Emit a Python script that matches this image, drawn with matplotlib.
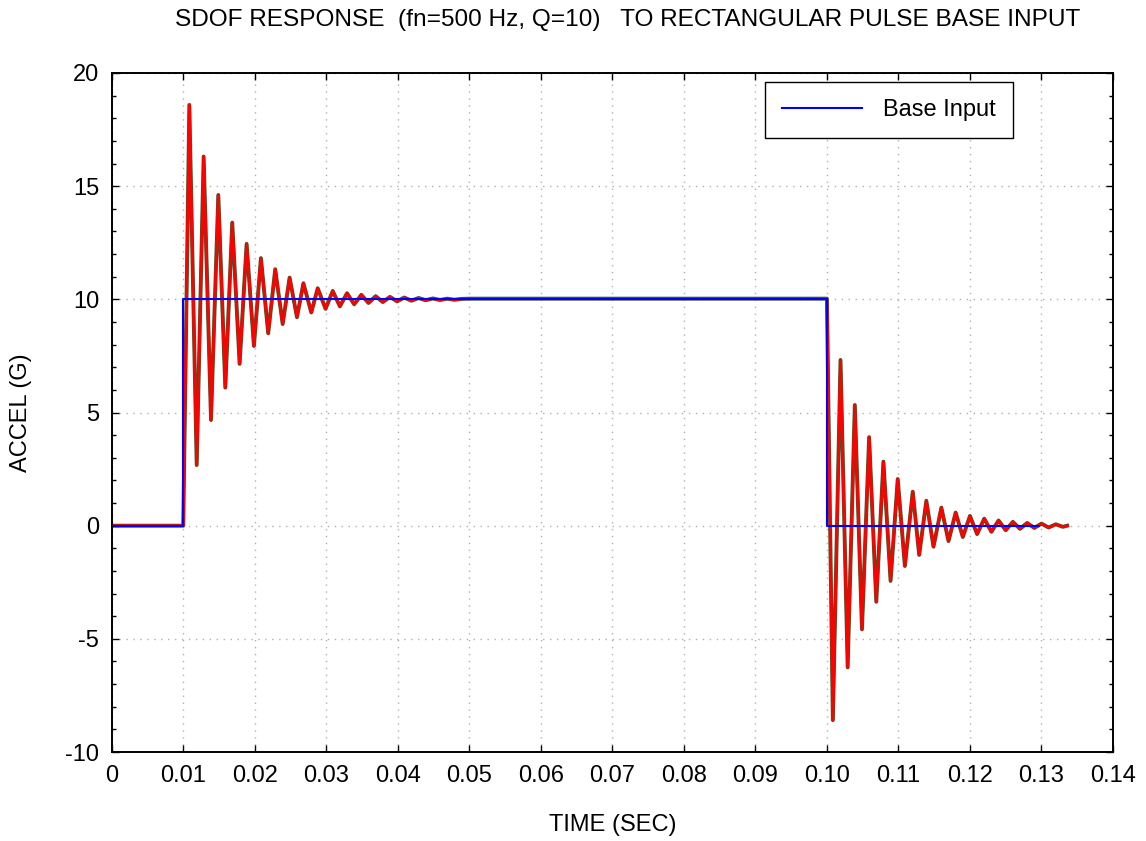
import matplotlib
matplotlib.use("Agg")
import matplotlib.pyplot as plt
from matplotlib.ticker import MultipleLocator

plt.rcParams['font.family'] = ['Liberation Sans', 'DejaVu Sans']
plt.rcParams['axes.unicode_minus'] = False

# ===== data =====
# base input: rectangular pulse, 10 G from 0.01 s to 0.10 s
base_t = [0.0, 0.0100, 0.0100, 0.1000, 0.1000, 0.1297]
base_a = [0.0, 0.0, 10.0, 10.0, 0.0, 0.0]

# SDOF response, peaks and troughs
resp_t = [0.0, 0.0100,
          0.01085, 0.01188, 0.01285, 0.01388, 0.01490, 0.01588, 0.01685, 0.01788,
          0.01886, 0.01988, 0.02086, 0.02188, 0.02286, 0.02390, 0.02487, 0.02590,
          0.02680, 0.02790, 0.02880, 0.02990, 0.03090, 0.03190, 0.03290, 0.03390,
          0.03490, 0.03590, 0.03690, 0.03790, 0.03890, 0.03990, 0.04090, 0.04190,
          0.04290, 0.04390, 0.04490, 0.04590, 0.04690, 0.04790, 0.04890, 0.05000,
          0.10000,
          0.10083, 0.1019, 0.1029, 0.1039, 0.1049, 0.1059, 0.1069, 0.1079,
          0.1089, 0.1099, 0.1109, 0.1120, 0.1129, 0.1139, 0.1149, 0.1160,
          0.1170, 0.1180, 0.1190, 0.1200, 0.1210, 0.1220, 0.1230, 0.1240,
          0.1250, 0.1260, 0.1270, 0.1280, 0.1290, 0.1300, 0.1310, 0.1320,
          0.1330, 0.1336]
resp_a = [0.0, 0.0,
          18.59, 2.68, 16.31, 4.67, 14.61, 6.10, 13.39, 7.15,
          12.45, 7.94, 11.82, 8.50, 11.33, 8.91, 10.96, 9.21,
          10.71, 9.42, 10.49, 9.58, 10.37, 9.69, 10.27, 9.78,
          10.20, 9.84, 10.14, 9.88, 10.11, 9.91, 10.08, 9.94,
          10.06, 9.96, 10.04, 9.97, 10.03, 9.98, 10.02, 10.03,
          10.03,
          -8.59, 7.32, -6.26, 5.33, -4.58, 3.91, -3.36, 2.83,
          -2.44, 2.06, -1.78, 1.50, -1.29, 1.10, -0.93, 0.80,
          -0.68, 0.58, -0.50, 0.43, -0.37, 0.31, -0.27, 0.23,
          -0.20, 0.17, -0.14, 0.12, -0.10, 0.09, -0.08, 0.06,
          -0.05, 0.0]

x_ticks = [0, 0.01, 0.02, 0.03, 0.04, 0.05, 0.06, 0.07, 0.08, 0.09, 0.10, 0.11, 0.12, 0.13, 0.14]
x_labels = ['0', '0.01', '0.02', '0.03', '0.04', '0.05', '0.06', '0.07', '0.08', '0.09',
            '0.10', '0.11', '0.12', '0.13', '0.14']
y_ticks = [-10, -5, 0, 5, 10, 15, 20]
y_labels = ['-10', '-5', '0', '5', '10', '15', '20']

# ===== figure =====
fig = plt.figure(figsize=(11.46, 8.41), dpi=100)
ax = fig.add_axes([0.0975, 0.1058, 0.8737, 0.8074])

ax.plot(resp_t, resp_a, color='#3a5a2a', lw=2.8)
ax.plot(resp_t, resp_a, color='#ff0000', lw=2.0)
ax.plot(base_t, base_a, color='#0000ff', lw=1.5, label='Base Input')

ax.set_xlim(0, 0.14)
ax.set_ylim(-10, 20)
ax.set_xticks(x_ticks)
ax.set_xticklabels(x_labels)
ax.set_yticks(y_ticks)
ax.set_yticklabels(y_labels)
ax.yaxis.set_minor_locator(MultipleLocator(1))

ax.tick_params(which='both', direction='in', top=True, right=True, labelsize=17)
ax.tick_params(which='major', length=5, width=1, pad=9)
ax.tick_params(which='minor', length=3, width=1)
ax.grid(True, which='major', linestyle=(0, (1, 4)), color='#b0b0b0', lw=1)
for s in ax.spines.values():
    s.set_linewidth(1.4)

ax.set_xlabel('TIME (SEC)', fontsize=17)
ax.xaxis.set_label_coords(0.5, -0.1075)
ax.xaxis.label.set_va('center')
ax.set_ylabel('ACCEL (G)', fontsize=17)
ax.yaxis.set_label_coords(-0.0905, 0.5)
ax.yaxis.label.set_va('center')

ax.set_title('SDOF RESPONSE  (fn=500 Hz, Q=10)   TO RECTANGULAR PULSE BASE INPUT',
             fontsize=17.6, x=0.515, y=1.078, va='center', pad=0)

leg = ax.legend(loc='upper right', bbox_to_anchor=(0.900, 0.987), borderaxespad=0,
                fontsize=17, fancybox=False, edgecolor='black', framealpha=1,
                handlelength=3.4, handletextpad=0.9, borderpad=0.72)
leg.get_frame().set_linewidth(1.0)

fig.savefig('out.png', dpi=100)
